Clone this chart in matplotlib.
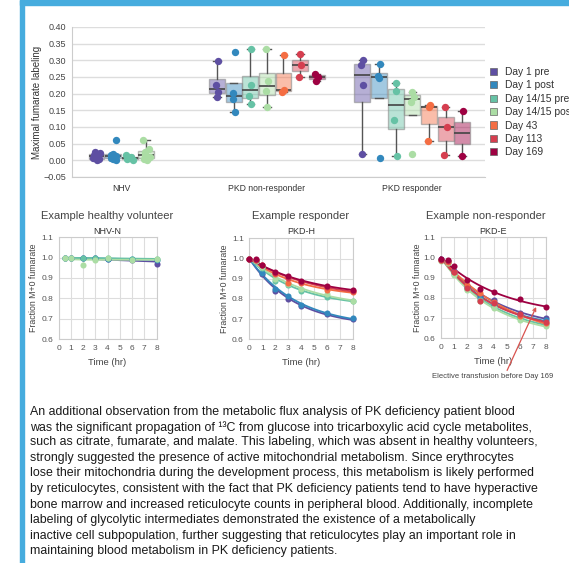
import numpy as np
import matplotlib
matplotlib.use("Agg")
import matplotlib.pyplot as plt
from matplotlib.colors import to_rgba
from matplotlib.patches import Patch, Rectangle

plt.rcParams['font.family'] = ['Liberation Sans', 'DejaVu Sans']

days = ["Day 1 pre", "Day 1 post", "Day 14/15 pre", "Day 14/15 post",
        "Day 43", "Day 113", "Day 169"]
colors = ["#5e4fa2", "#3288bd", "#66c2a5", "#abdda4", "#f46d43", "#d53e4f", "#9e0142"]
groups = ["NHV", "PKD non-responder", "PKD responder"]

# maximal fumarate labeling, one list per day
nhv = [
    [0.0, 0.003, 0.006, 0.01, 0.013, 0.017, 0.021, 0.026],
    [0.0, 0.004, 0.008, 0.012, 0.016, 0.02, 0.06],
    [0.002, 0.005, 0.008, 0.011, 0.015],
    [0.0, 0.005, 0.01, 0.016, 0.025, 0.033, 0.06],
]
non_resp = [
    [0.19, 0.205, 0.225, 0.297],
    [0.146, 0.183, 0.203, 0.324],
    [0.169, 0.193, 0.227, 0.333],
    [0.161, 0.209, 0.239, 0.333],
    [0.205, 0.211, 0.315],
    [0.251, 0.286, 0.318],
    [0.239, 0.25, 0.26],
]
resp = [
    [0.018, 0.226, 0.285, 0.30],
    [0.006, 0.246, 0.253, 0.289],
    [0.013, 0.121, 0.209, 0.231],
    [0.018, 0.176, 0.191, 0.206],
    [0.058, 0.16, 0.167],
    [0.016, 0.10, 0.161],
    [0.014, 0.148],
]

# fraction M+0 fumarate time courses
t_nhv = [0.5, 1, 2, 3, 4, 6, 8]
nhv_n = [
    [1.0, 1.0, 0.998, 1.0, 0.995, 0.99, 0.97],
    [1.0, 1.0, 1.0, 1.0, 0.993, 0.992, 0.99],
    [1.0, 1.0, 0.998, 1.0, 0.997, 0.992, 0.995],
    [1.0, 1.0, 0.965, 0.99, 0.998, 0.99, 0.995],
]
t_pkd = [0, 0.5, 1, 2, 3, 4, 6, 8]
pkd_h = [
    [1.0, 0.99, 0.925, 0.838, 0.798, 0.763, 0.725, 0.70],
    [1.0, 0.99, 0.928, 0.848, 0.813, 0.772, 0.728, 0.705],
    [1.0, 0.99, 0.955, 0.89, 0.868, 0.84, 0.81, 0.79],
    [1.0, 0.99, 0.96, 0.90, 0.876, 0.85, 0.822, 0.792],
    [1.0, 0.995, 0.968, 0.925, 0.881, 0.88, 0.845, 0.835],
    [1.0, 0.995, 0.97, 0.93, 0.905, 0.885, 0.858, 0.838],
    [1.0, 0.997, 0.967, 0.931, 0.914, 0.888, 0.864, 0.846],
]
pkd_e = [
    [0.995, 0.985, 0.935, 0.86, 0.81, 0.79, 0.725, 0.70],
    [0.99, 0.98, 0.925, 0.85, 0.80, 0.77, 0.715, 0.69],
    [0.99, 0.98, 0.92, 0.845, 0.79, 0.755, 0.70, 0.67],
    [0.985, 0.975, 0.915, 0.84, 0.785, 0.75, 0.69, 0.66],
    [0.99, 0.98, 0.93, 0.865, 0.825, 0.78, 0.71, 0.675],
    [0.99, 0.985, 0.93, 0.85, 0.785, 0.775, 0.72, 0.68],
    [0.995, 0.99, 0.96, 0.89, 0.845, 0.828, 0.793, 0.757],
]

body = [
    "An additional observation from the metabolic flux analysis of PK deficiency patient blood",
    "was the significant propagation of \u00b9\u00b3C from glucose into tricarboxylic acid cycle metabolites,",
    "such as citrate, fumarate, and malate. This labeling, which was absent in healthy volunteers,",
    "strongly suggested the presence of active mitochondrial metabolism. Since erythrocytes",
    "lose their mitochondria during the development process, this metabolism is likely performed",
    "by reticulocytes, consistent with the fact that PK deficiency patients tend to have hyperactive",
    "bone marrow and increased reticulocyte counts in peripheral blood. Additionally, incomplete",
    "labeling of glycolytic intermediates demonstrated the existence of a metabolically",
    "inactive cell subpopulation, further suggesting that reticulocytes play an important role in",
    "maintaining blood metabolism in PK deficiency patients.",
]

W, H = 569, 563
fig = plt.figure(figsize=(W / 100, H / 100), dpi=100)

def rect(l, t, r, b):
    return [l / W, 1 - b / H, (r - l) / W, (b - t) / H]

# blue frame of the page
fig.patches.append(Rectangle((20 / W, 1 - 5 / H), 1, 5 / H, transform=fig.transFigure,
                             color="#46acde", zorder=0))
fig.patches.append(Rectangle((20 / W, 0), 4 / W, 1, transform=fig.transFigure,
                             color="#46acde", zorder=0))

# ---- top box plot ----
ax = fig.add_axes(rect(72, 27, 485, 177))
slot = 0.8 / 7

def draw_group(center, data):
    n = len(data)
    offs = (np.arange(n) - (n - 1) / 2) * slot
    for i, (off, vals) in enumerate(zip(offs, data)):
        pos = center + off
        ax.boxplot([vals], positions=[pos], widths=slot * 0.96, patch_artist=True,
                   showfliers=False, capwidths=slot * 0.45,
                   boxprops=dict(facecolor=to_rgba(colors[i], 0.45),
                                 edgecolor=(0.55, 0.55, 0.55, 0.6), linewidth=1),
                   medianprops=dict(color="#444444", linewidth=1.2),
                   whiskerprops=dict(color="#555555", linewidth=1),
                   capprops=dict(color="#555555", linewidth=1))
        k = np.arange(len(vals))
        jit = slot * (0.2 if center == 0 else 0.08) * np.sin(k * 2.3 + i)
        ax.scatter(pos + jit, vals, s=28, color=colors[i], linewidths=0, zorder=4)

draw_group(0, nhv)
draw_group(1, non_resp)
draw_group(2, resp)

ax.set_xlim(-0.34, 2.5)
ax.set_ylim(-0.05, 0.40)
ax.set_yticks(np.arange(-0.05, 0.401, 0.05))
ax.set_xticks([0, 1, 2])
ax.set_xticklabels(groups, fontsize=6.2, color="#333333")
ax.tick_params(axis="y", labelsize=6.5, labelcolor="#444444", length=0, pad=4)
ax.tick_params(axis="x", length=0, pad=5)
ax.grid(axis="y", color="#dddddd", linewidth=1)
ax.set_axisbelow(True)
for s in ["top", "right"]:
    ax.spines[s].set_visible(False)
for s in ["left", "bottom"]:
    ax.spines[s].set_color("#cccccc")
ax.set_ylabel("Maximal fumarate labeling", fontsize=7, color="#333333")
ax.yaxis.set_label_coords(-0.072, 0.5)

handles = [Patch(facecolor=c, edgecolor="#666666", linewidth=0.5) for c in colors]
fig.legend(handles, days, loc="upper left", bbox_to_anchor=(490 / W, 1 - 67 / H),
           frameon=False, fontsize=7.4, handlelength=0.72, handleheight=0.72,
           handletextpad=0.75, labelspacing=0.33, borderpad=0, borderaxespad=0,
           labelcolor="#333333")

# ---- small time-course panels ----
def fit_curve(t, y):
    t = np.asarray(t, float)
    y = np.asarray(y, float)
    best = None
    for k in np.linspace(0.02, 3, 400):
        f = 1 - np.exp(-k * t)
        b = np.sum((1 - y) * f) / np.sum(f * f)
        err = np.sum((1 - b * f - y) ** 2)
        if best is None or err < best[0]:
            best = (err, k, b)
    tt = np.linspace(min(t), 8, 120)
    return tt, 1 - best[2] * (1 - np.exp(-best[1] * tt))

panels = [
    (rect(58.7, 237.3, 156.5, 339), "Example healthy volunteer", "NHV-N", t_nhv, nhv_n, 107, -0.21),
    (rect(249.3, 238.3, 352.7, 339.3), "Example responder", "PKD-H", t_pkd, pkd_h, 301, -0.195),
    (rect(441, 237.3, 546, 338.3), "Example non-responder", "PKD-E", t_pkd, pkd_e, 486, -0.178),
]
small_axes = []
for pos, title, sub, t, series, tx, ylx in panels:
    a = fig.add_axes(pos)
    for i, y in enumerate(series):
        tt, yy = fit_curve(t, y)
        a.plot(tt, yy, color=colors[i], linewidth=1.3, clip_on=False, zorder=3)
        a.plot(t, y, "o", color=colors[i], markersize=4.4, markeredgewidth=0,
               clip_on=False, zorder=4)
    a.set_xlim(0, 8)
    a.set_ylim(0.6, 1.1)
    a.set_xticks(range(0, 9))
    a.set_yticks([0.6, 0.7, 0.8, 0.9, 1.0, 1.1])
    a.tick_params(labelsize=6, labelcolor="#555555", length=0, pad=4)
    a.grid(True, color="#dddddd", linewidth=0.8)
    a.set_axisbelow(True)
    for s in a.spines.values():
        s.set_color("#cccccc")
    a.set_ylabel("Fraction M+0 fumarate", fontsize=6.3, color="#444444")
    a.yaxis.set_label_coords(ylx, 0.5)
    a.set_xlabel("Time (hr)", fontsize=6.8, color="#444444")
    a.xaxis.set_label_coords(0.5, -0.19)
    fig.text(tx / W, 1 - 216 / H, title, fontsize=8, color="#444444", ha="center", va="center")
    fig.text((pos[0] + pos[2] / 2), 1 - 232 / H, sub, fontsize=6.5, color="#333333",
             ha="center", va="center")
    small_axes.append(a)

small_axes[2].annotate("Elective transfusion before Day 169", xy=(7.25, 0.755),
                       xytext=(492.5, H - 376.7), textcoords="figure pixels",
                       fontsize=5.5, color="#444444", ha="center", va="center",
                       arrowprops=dict(arrowstyle="->", color="#d9534f", lw=0.9,
                                       relpos=(0.61, 1.0), shrinkA=0, shrinkB=0))

# ---- body text ----
line_y = [411.7, 427.3, 442.3, 458.3, 473.3, 489, 505, 520, 535.7, 551]
for yc, line in zip(line_y, body):
    fig.text(30 / W, 1 - yc / H, line, fontsize=8.9, color="#1a1a1a", ha="left", va="center")

fig.savefig("out.png", dpi=100)
